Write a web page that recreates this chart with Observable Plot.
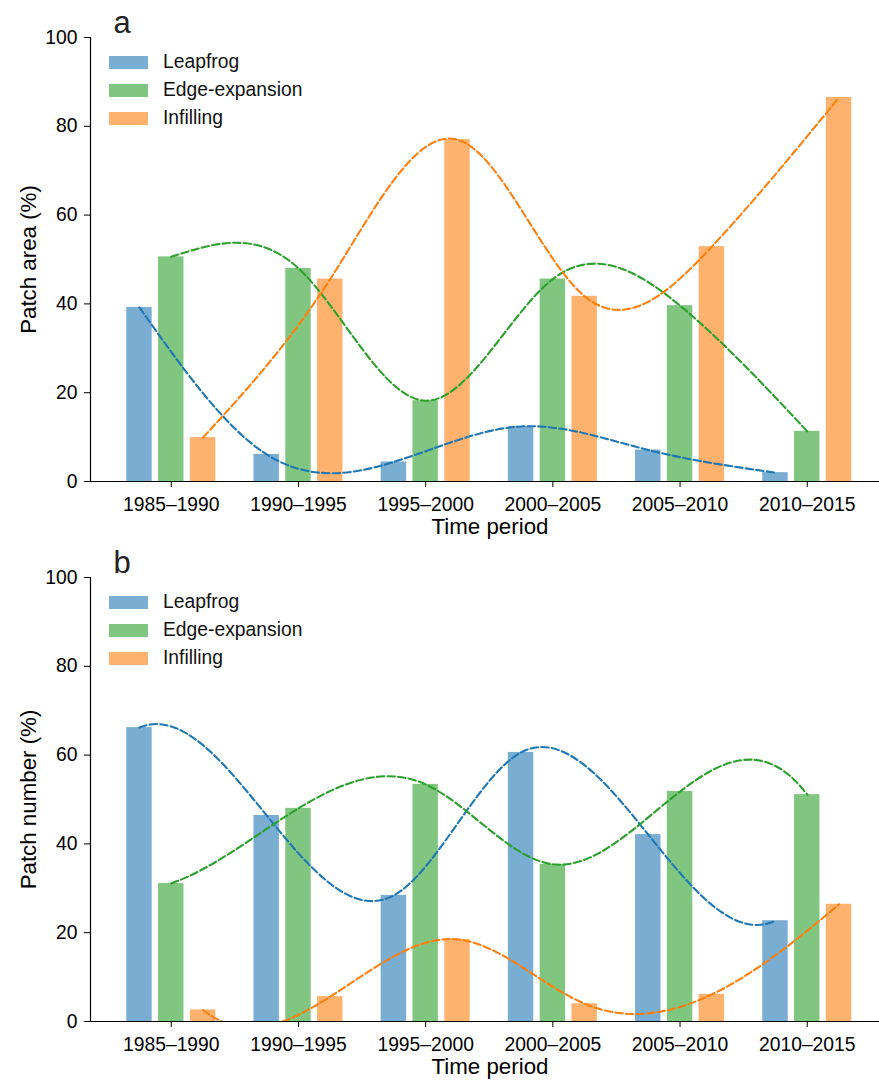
<!DOCTYPE html>
<html>
<head>
<meta charset="utf-8">
<script src="https://cdn.jsdelivr.net/npm/d3@7"></script>
<script src="https://cdn.jsdelivr.net/npm/@observablehq/plot@0.6"></script>
<style>
  html, body { margin: 0; padding: 0; background: #fff; }
  body { font-family: "Liberation Sans", Arial, Helvetica, sans-serif; }
  .panel { position: relative; width: 879px; height: 540px; }
  .legend { position: absolute; left: 109px; top: 48px; font-size: 19.3px; color: #111; }
  .legend .row { display: flex; align-items: center; height: 28px; }
  .legend .sw { width: 39px; height: 13px; margin-right: 15px; }
</style>
</head>
<body>
<div id="chart"></div>
<script>
// ---- data ----
const periods = ["1985–1990", "1990–1995", "1995–2000", "2000–2005", "2005–2010", "2010–2015"];
const types = ["Leapfrog", "Edge-expansion", "Infilling"];
const lineColors = ["#1f77b4", "#2ca02c", "#ff7f0e"];

// Panel a: Patch area (%)
const areaLeapfrog = [39.2, 6.1, 4.4, 12.4, 7.1, 2.0];
const areaEdge     = [50.6, 48.0, 18.2, 45.6, 39.6, 11.3];
const areaInfill   = [9.9, 45.6, 77.0, 41.7, 52.9, 86.5];

// Panel b: Patch number (%)
const numLeapfrog = [66.2, 46.4, 28.4, 60.6, 42.1, 22.7];
const numEdge     = [31.1, 48.0, 53.4, 35.4, 51.8, 51.1];
const numInfill   = [2.6, 5.6, 18.5, 4.0, 6.1, 26.4];

const yTicks = [0, 20, 40, 60, 80, 100];

// ---- custom curve: cubic spline with not-a-knot end conditions ----
function solve(A, b) {
  const n = b.length;
  for (let c = 0; c < n; c++) {
    let p = c;
    for (let r = c + 1; r < n; r++) if (Math.abs(A[r][c]) > Math.abs(A[p][c])) p = r;
    [A[c], A[p]] = [A[p], A[c]]; [b[c], b[p]] = [b[p], b[c]];
    for (let r = c + 1; r < n; r++) {
      const f = A[r][c] / A[c][c];
      for (let k = c; k < n; k++) A[r][k] -= f * A[c][k];
      b[r] -= f * b[c];
    }
  }
  const x = new Array(n).fill(0);
  for (let r = n - 1; r >= 0; r--) {
    let s = b[r];
    for (let k = r + 1; k < n; k++) s -= A[r][k] * x[k];
    x[r] = s / A[r][r];
  }
  return x;
}
function NotAKnot(context) { this._context = context; }
NotAKnot.prototype = {
  areaStart() { this._line = 0; },
  areaEnd() { this._line = NaN; },
  lineStart() { this._x = []; this._y = []; },
  point(x, y) { this._x.push(+x); this._y.push(+y); },
  lineEnd() {
    const X = this._x, Y = this._y, n = X.length, ctx = this._context;
    if (n) {
      this._line ? ctx.lineTo(X[0], Y[0]) : ctx.moveTo(X[0], Y[0]);
      if (n < 4) {
        for (let i = 1; i < n; i++) ctx.lineTo(X[i], Y[i]);
      } else {
        const h = [];
        for (let i = 0; i < n - 1; i++) h.push(X[i + 1] - X[i]);
        const A = Array.from({length: n}, () => new Array(n).fill(0));
        const b = new Array(n).fill(0);
        A[0][0] = h[1]; A[0][1] = -(h[0] + h[1]); A[0][2] = h[0];
        for (let i = 1; i < n - 1; i++) {
          A[i][i - 1] = h[i - 1]; A[i][i] = 2 * (h[i - 1] + h[i]); A[i][i + 1] = h[i];
          b[i] = 6 * ((Y[i + 1] - Y[i]) / h[i] - (Y[i] - Y[i - 1]) / h[i - 1]);
        }
        A[n - 1][n - 3] = h[n - 2]; A[n - 1][n - 2] = -(h[n - 3] + h[n - 2]); A[n - 1][n - 1] = h[n - 3];
        const M = solve(A, b);
        const d = [];
        for (let i = 0; i < n - 1; i++) d.push((Y[i + 1] - Y[i]) / h[i] - h[i] * (2 * M[i] + M[i + 1]) / 6);
        d.push((Y[n - 1] - Y[n - 2]) / h[n - 2] + h[n - 2] * (M[n - 2] + 2 * M[n - 1]) / 6);
        for (let i = 0; i < n - 1; i++) {
          const t = h[i] / 3;
          ctx.bezierCurveTo(X[i] + t, Y[i] + t * d[i], X[i + 1] - t, Y[i + 1] - t * d[i + 1], X[i + 1], Y[i + 1]);
        }
      }
    }
    if (this._line || (this._line !== 0 && n === 1)) ctx.closePath();
    this._line = 1 - this._line;
  }
};
const curveNotAKnot = (context) => new NotAKnot(context);

const panels = [
  {tag: "a", ylabel: "Patch area (%)", series: [areaLeapfrog, areaEdge, areaInfill], curve: "natural"},
  {tag: "b", ylabel: "Patch number (%)", series: [numLeapfrog, numEdge, numInfill], curve: curveNotAKnot}
];

// ---- drawing ----
const offsets = [-0.25, 0, 0.25];
const barHalf = 0.1;
const xmin = -0.635, xmax = 5.568;
const font = "'Liberation Sans', Arial, Helvetica, sans-serif";

const root = document.getElementById("chart");

for (const p of panels) {
  const rows = [];
  p.series.forEach((vals, s) => {
    vals.forEach((v, i) => rows.push({i, s, type: types[s], value: v, xc: i + offsets[s]}));
  });

  const marks = [];
  types.forEach((t, s) => {
    marks.push(Plot.rectY(rows.filter(d => d.s === s), {
      x1: d => d.xc - barHalf, x2: d => d.xc + barHalf, y: "value",
      fill: lineColors[s], fillOpacity: 0.6
    }));
  });
  types.forEach((t, s) => {
    marks.push(Plot.line(rows.filter(d => d.s === s), {
      x: "xc", y: "value", stroke: lineColors[s], strokeWidth: 2.1,
      strokeDasharray: "7.4,3.2", curve: p.curve, clip: true
    }));
  });
  marks.push(Plot.axisY({ticks: yTicks, tickSize: 6, tickPadding: 7, fontSize: 19.3, label: null}));
  marks.push(Plot.axisX({ticks: [0, 1, 2, 3, 4, 5], tickFormat: i => periods[i], tickSize: 6, tickPadding: 10, fontSize: 19.3, label: null}));
  marks.push(Plot.ruleY([0], {stroke: "#000", strokeWidth: 1.2}));
  marks.push(Plot.ruleX([xmin], {stroke: "#000", strokeWidth: 1.2}));
  marks.push(Plot.text(["Time period"], {frameAnchor: "bottom", dx: 5, dy: 37, lineAnchor: "top", fontSize: 22.3, fill: "#000"}));
  marks.push(Plot.text([p.ylabel], {frameAnchor: "left", dx: -62, rotate: -90, fontSize: 22.3, fill: "#000", textAnchor: "middle", lineAnchor: "middle"}));
  marks.push(Plot.text([p.tag], {frameAnchor: "top-left", dx: 23, dy: -5, lineAnchor: "bottom", textAnchor: "start", fontSize: 31, fill: "#222"}));

  const svg = Plot.plot({
    width: 879, height: 540,
    marginLeft: 90, marginRight: 0, marginTop: 37, marginBottom: 59,
    style: {fontFamily: font, color: "#000", background: "#fff", overflow: "visible"},
    x: {type: "linear", domain: [xmin, xmax], axis: null},
    y: {domain: [0, 100], axis: null},
    marks
  });

  const panel = document.createElement("div");
  panel.className = "panel";
  panel.appendChild(svg);

  const lg = document.createElement("div");
  lg.className = "legend";
  types.forEach((t, s) => {
    const r = document.createElement("div");
    r.className = "row";
    const sw = document.createElement("div");
    sw.className = "sw";
    sw.style.background = lineColors[s];
    sw.style.opacity = 0.6;
    const tx = document.createElement("span");
    tx.textContent = t;
    r.appendChild(sw); r.appendChild(tx);
    lg.appendChild(r);
  });
  panel.appendChild(lg);
  root.appendChild(panel);
}
</script>
</body>
</html>
